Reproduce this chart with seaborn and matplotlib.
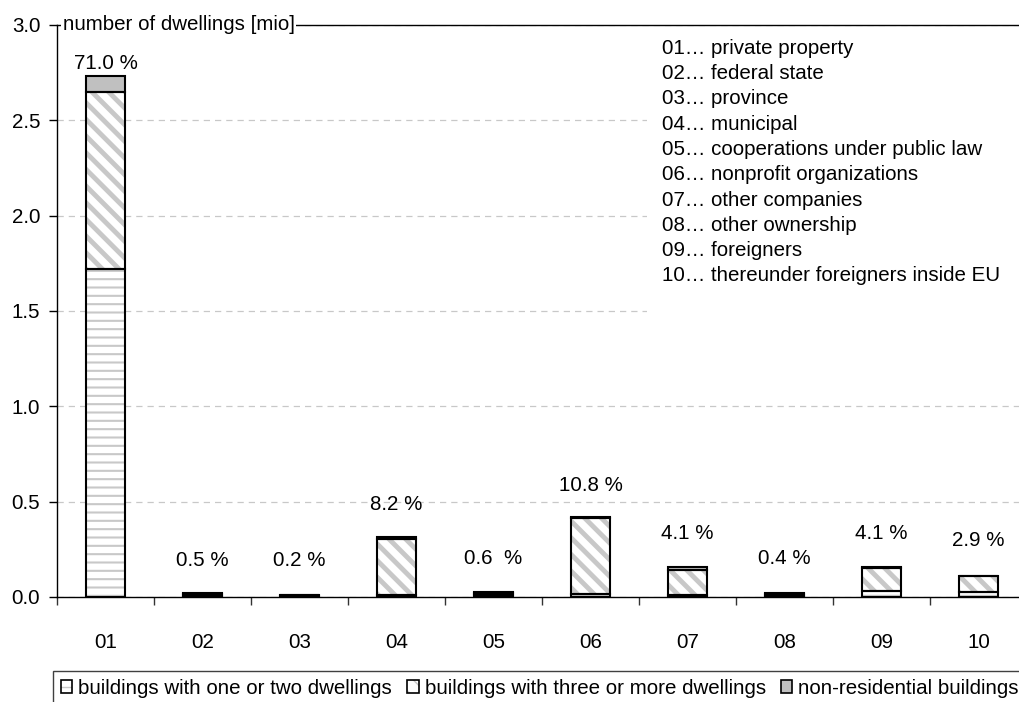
import matplotlib
matplotlib.use("Agg")
import matplotlib.pyplot as plt
import seaborn as sns
import numpy as np
from matplotlib.patches import Patch, Rectangle
from matplotlib.ticker import FixedLocator

# data (million dwellings)
owners = ["01", "02", "03", "04", "05", "06", "07", "08", "09", "10"]
one_two = [1.72, 0.004, 0.003, 0.010, 0.008, 0.014, 0.008, 0.005, 0.031, 0.025]
three_plus = [0.93, 0.012, 0.005, 0.293, 0.013, 0.400, 0.135, 0.012, 0.122, 0.084]
non_res = [0.08, 0.005, 0.003, 0.014, 0.005, 0.003, 0.016, 0.006, 0.004, 0.003]
share_labels = ["71.0 %", "0.5 %", "0.2 %", "8.2 %", "0.6  %", "10.8 %",
                "4.1 %", "0.4 %", "4.1 %", "2.9 %"]
share_label_y = [2.80, 0.19, 0.19, 0.487, 0.204, 0.586, 0.335, 0.204, 0.335, 0.298]
owner_names = ["private property", "federal state", "province", "municipal",
               "cooperations under public law", "nonprofit organizations",
               "other companies", "other ownership", "foreigners",
               "thereunder foreigners inside EU"]
series_names = ["buildings with one or two dwellings",
                "buildings with three or more dwellings",
                "non-residential buildings"]

FS = 14.8
sns.set_theme(style="white")
plt.rcParams["font.family"] = ["Liberation Sans", "DejaVu Sans"]
plt.rcParams["font.size"] = FS
plt.rcParams["text.color"] = "black"
plt.rcParams["xtick.color"] = "black"
plt.rcParams["ytick.color"] = "black"

fig = plt.figure(figsize=(10.2, 7.02), dpi=100)
ax = fig.add_axes([57 / 1020, 105 / 702, 970 / 1020, 572 / 702])

one_two = np.array(one_two)
three_plus = np.array(three_plus)
non_res = np.array(non_res)
bottom2 = one_two
bottom3 = one_two + three_plus

W = 0.4
hatch_grey = "#c8c8c8"

# hatched fills (hatch colour follows the edge colour)
with plt.rc_context({"hatch.linewidth": 1.5}):
    sns.barplot(x=owners, y=one_two, order=owners, color="white", saturation=1,
                width=W, edgecolor=hatch_grey, linewidth=0, hatch="--",
                errorbar=None, ax=ax, zorder=2)
with plt.rc_context({"hatch.linewidth": 3.5}):
    sns.barplot(x=owners, y=three_plus, bottom=bottom2, order=owners, color="white",
                saturation=1, width=W, edgecolor=hatch_grey, linewidth=0, hatch="\\\\",
                errorbar=None, ax=ax, zorder=2)
sns.barplot(x=owners, y=non_res, bottom=bottom3, order=owners, color="#c0c0c0",
            saturation=1, width=W, edgecolor="black", linewidth=1.5,
            errorbar=None, ax=ax, zorder=3)

# black outlines on top of hatched segments
for vals, bot in [(one_two, None), (three_plus, bottom2)]:
    kw = {} if bot is None else {"bottom": bot}
    sns.barplot(x=owners, y=vals, order=owners, color="white", saturation=1,
                width=W, facecolor="none", edgecolor="black", linewidth=1.5,
                errorbar=None, ax=ax, zorder=3, **kw)

for i, (lab, yy) in enumerate(zip(share_labels, share_label_y)):
    ax.text(i, yy, lab, ha="center", va="center", fontsize=FS, color="black", zorder=4)

ax.set_xlim(-0.5, 9.5)
ax.set_ylim(0, 3.0)
ax.set_xlabel("")
ax.set_ylabel("")
ax.set_yticks(np.arange(0, 3.01, 0.5))
ax.set_yticklabels([f"{v:.1f}" for v in np.arange(0, 3.01, 0.5)])
ax.xaxis.set_minor_locator(FixedLocator(np.arange(-0.5, 10, 1.0)))
ax.tick_params(axis="x", which="major", length=0, pad=26, labelsize=FS, labelcolor="black")
ax.tick_params(axis="x", which="minor", bottom=True, length=6, width=1, color="#333333")
ax.tick_params(axis="y", which="major", left=True, length=6, width=1, pad=6,
               labelsize=FS, color="black", labelcolor="black")

ax.grid(axis="y", color="#c8c8c8", linestyle=(0, (5, 4)), linewidth=0.9)
ax.set_axisbelow(True)
for side in ["left", "bottom", "top"]:
    ax.spines[side].set_visible(True)
    ax.spines[side].set_color("black")
    ax.spines[side].set_linewidth(1.0)
ax.spines["right"].set_visible(False)

ax.text(0.006, 1.0, "number of dwellings [mio]", transform=ax.transAxes,
        ha="left", va="center", fontsize=FS, color="black", zorder=5,
        bbox=dict(facecolor="white", edgecolor="none", pad=1))

# key for the owner codes, on a white patch that hides the grid
ax.add_patch(Rectangle((0.608, 1.40), 0.45, 1.57, transform=ax.get_yaxis_transform(),
                       facecolor="white", edgecolor="none", zorder=0.8))
key_text = "\n".join(f"{c}\u2026 {n}" for c, n in zip(owners, owner_names))
ax.text(0.6237, 0.976, key_text, transform=ax.transAxes, ha="left", va="top",
        fontsize=FS, color="black", linespacing=1.42, zorder=4)

handles = [
    (Patch(facecolor="white", edgecolor=hatch_grey, hatch="--", linewidth=0),
     Patch(facecolor="none", edgecolor="black", linewidth=1.2)),
    (Patch(facecolor="white", edgecolor=hatch_grey, hatch="\\\\", linewidth=0),
     Patch(facecolor="none", edgecolor="black", linewidth=1.2)),
    Patch(facecolor="#c0c0c0", edgecolor="black", linewidth=1.2),
]
leg = fig.legend(handles, series_names, loc="upper left",
                 bbox_to_anchor=(53 / 1020, 1 - 671 / 702), ncol=3,
                 frameon=True, fancybox=False, framealpha=1, edgecolor="#404040",
                 borderaxespad=0, borderpad=0.38, handlelength=0.56, handleheight=0.56,
                 handletextpad=0.3, columnspacing=0.72, fontsize=FS)
leg.get_frame().set_linewidth(1.0)
for t in leg.get_texts():
    t.set_color("black")

fig.savefig("out.png", dpi=100)
